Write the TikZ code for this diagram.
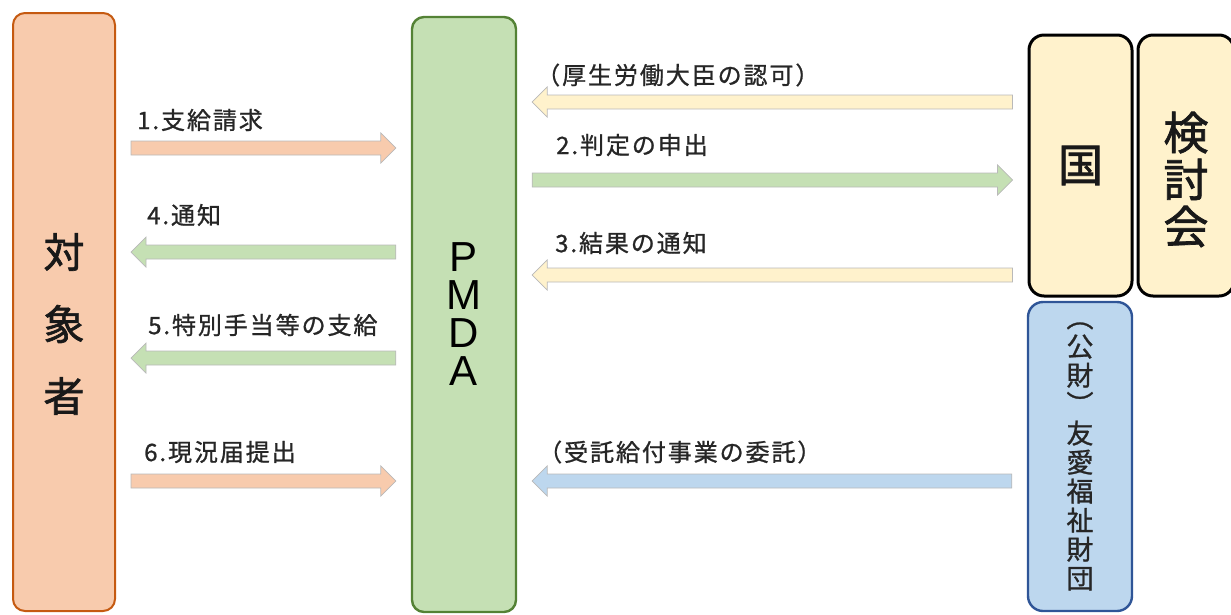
\documentclass[tikz,border=0pt]{standalone}
\usepackage{fontspec}
\newfontfamily\jp{Noto Sans CJK JP}[FakeBold=1.6]
\newfontfamily\jplbl{Noto Sans CJK JP}[LetterSpace=8, FakeBold=1]
\newfontfamily\latn{Liberation Sans}
\usetikzlibrary{calc}
\definecolor{orfill}{HTML}{F8CBAD}
\definecolor{ordraw}{HTML}{C55A11}
\definecolor{grfill}{HTML}{C5E0B4}
\definecolor{grdraw}{HTML}{548235}
\definecolor{yefill}{HTML}{FFF2CC}
\definecolor{blfill}{HTML}{BDD7EE}
\definecolor{bldraw}{HTML}{2F5597}
\tikzset{%
  % Specifications for style of nodes:
         base/.style = {rectangle, rounded corners=12pt, line width=2pt,
                        align=center, inner sep=0pt},
    orangebox/.style = {base, draw=ordraw, fill=orfill,
                        minimum width=102pt, minimum height=598pt},
     greenbox/.style = {base, draw=grdraw, line width=2.4pt, fill=grfill,
                        minimum width=104pt, minimum height=595pt},
    yellowbox/.style = {base, draw=black, line width=3pt, rounded corners=15pt, fill=yefill,
                        minimum width=103pt, minimum height=261pt},
      bluebox/.style = {base, draw=bldraw, line width=2.4pt, rounded corners=15pt, fill=blfill,
                        minimum width=104pt, minimum height=309pt},
      bigtext/.style = {align=center, inner sep=0pt, text=black!90,
                        font=\jp\fontsize{41}{72}\selectfont},
          lbl/.style = {anchor=west, inner sep=0pt, text=black!85,
                        font=\jplbl\fontsize{24}{24}\selectfont},
  % block arrows between two points on the boxes
          fat/.style = {draw=gray!55, line width=0.7pt, to path={
                        let \p1=(\tikztostart), \p2=(\tikztotarget),
                            \n1={sign(\x2-\x1)} in
                        ({\x1+\n1*15pt},{\y1+7pt}) -- ({\x2-\n1*30pt},{\y1+7pt})
                        -- ({\x2-\n1*30pt},{\y1+15pt}) -- ({\x2-\n1*15pt},{\y1})
                        -- ({\x2-\n1*30pt},{\y1-15pt}) -- ({\x2-\n1*30pt},{\y1-7pt})
                        -- ({\x1+\n1*15pt},{\y1-7pt}) -- cycle}},
  orangearrow/.style = {fat, fill=orfill},
   greenarrow/.style = {fat, fill=grfill},
  yellowarrow/.style = {fat, fill=yefill},
    bluearrow/.style = {fat, fill=blfill}
}
\begin{document}
\begin{tikzpicture}[x=1pt, y=-1pt]
  \useasboundingbox (0,0) rectangle (1231,614);
  \node (tsh)  [orangebox] at (64,312) {};
  \node (tshtext) [bigtext] at ([yshift=-12pt]tsh.center) {対\\象\\者};
  \node (pmda) [greenbox, font=\latn\fontsize{42}{38}\selectfont] at (464,314.5) {P\\M\\D\\A};
  \node (kuni) [yellowbox, text=black!90, font=\jp\fontsize{45}{45}\selectfont] at (1080.5,165.5) {国};
  \node (kent) [yellowbox, minimum width=96pt] at (1186,165.5) {};
  \node (kenttext) [bigtext, font=\jp\fontsize{45}{47}\selectfont] at ([yshift=-14pt]kent.center) {検\\討\\会};
  \node (zai)  [bluebox, text=black!85, font=\jplbl\fontsize{27}{29}\selectfont] at (1080,456.5)
               {︵\\公\\財\\︶\\友\\愛\\福\\祉\\財\\団};

  % between the person and PMDA
  \draw[orangearrow] (tsh.east |- 0,148) to (pmda.west |- 0,148);
  \draw[greenarrow]  (pmda.west |- 0,252) to (tsh.east |- 0,252);
  \draw[greenarrow]  (pmda.west |- 0,358) to (tsh.east |- 0,358);
  \draw[orangearrow] (tsh.east |- 0,481) to (pmda.west |- 0,481);
  \node (l1) [lbl] at (137,120) {1.支給請求};
  \node (l4) [lbl] at (147,215) {4.通知};
  \node (l5) [lbl] at (148,325) {5.特別手当等の支給};
  \node (l6) [lbl] at (144,452) {6.現況届提出};

  % between PMDA and the state
  \draw[yellowarrow] (kuni.west |- 0,102) to (pmda.east |- 0,102);
  \draw[greenarrow]  (pmda.east |- 0,180) to (kuni.west |- 0,180);
  \draw[yellowarrow] (kuni.west |- 0,275) to (pmda.east |- 0,275);
  \draw[bluearrow]   (zai.west |- 0,481) to (pmda.east |- 0,481);
  \node (la) [lbl] at (536,75)  {（厚生労働大臣の認可）};
  \node (l2) [lbl] at (556,145) {2.判定の申出};
  \node (l3) [lbl] at (555,243) {3.結果の通知};
  \node (lb) [lbl] at (538,452) {（受託給付事業の委託）};
\end{tikzpicture}
\end{document}
